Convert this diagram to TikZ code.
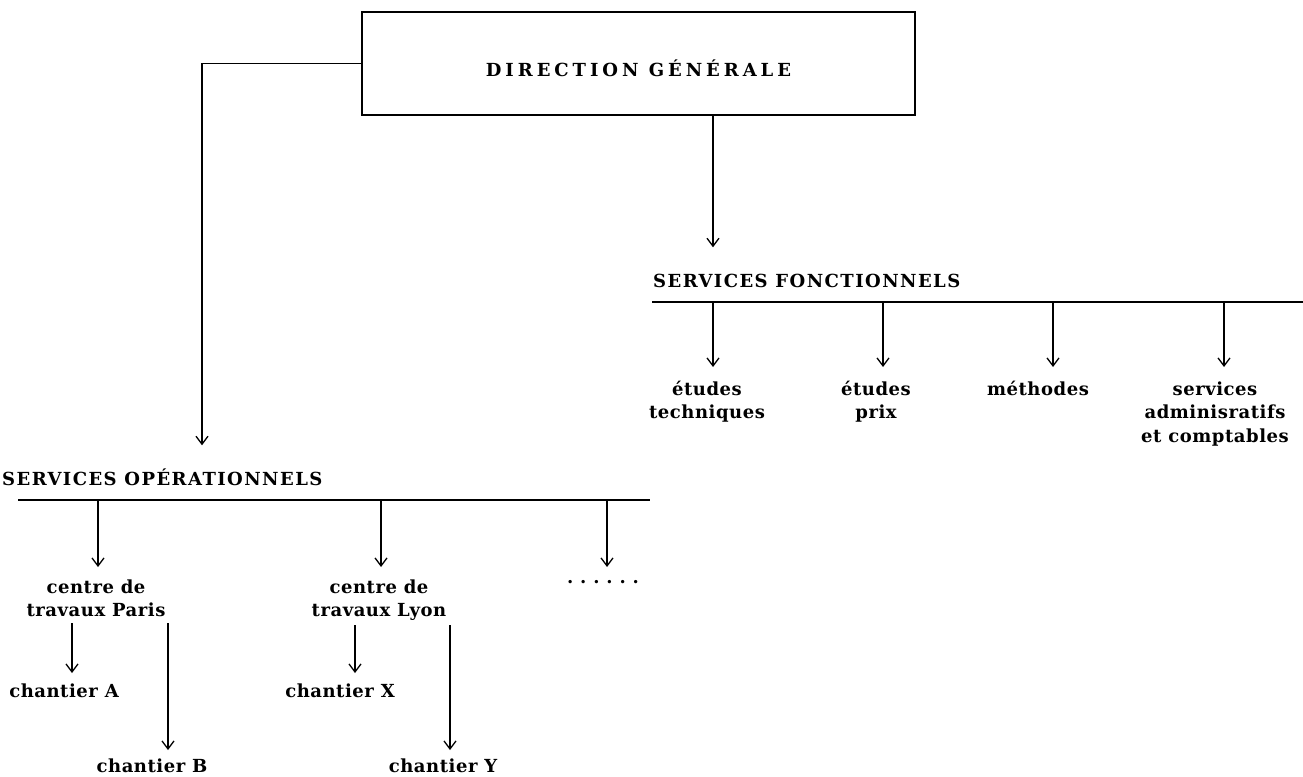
\documentclass[tikz,border=0pt]{standalone}
\usepackage{fontspec}
\setmainfont{DejaVu Serif}[LetterSpace=3]
\newfontfamily\headfont{DejaVu Serif}[LetterSpace=8]
\newfontfamily\widefont{DejaVu Serif}[LetterSpace=22]
\newfontfamily\dotfont{DejaVu Serif}[LetterSpace=38]
\usetikzlibrary{arrows.meta}
\tikzset{orgbox/.style = {draw, line width=2pt, minimum width=553pt, minimum height=103pt, text height=25pt, text depth=0pt, font=\fontsize{18}{23.5}\widefont\bfseries}}
\tikzset{head/.style = {anchor=base west, inner xsep=0pt, text height=13pt, inner ysep=26.5pt, font=\fontsize{18}{23.5}\headfont\bfseries}}
\tikzset{lbl/.style = {anchor=north, align=center, text height=13pt, inner ysep=13pt, font=\fontsize{18}{23.5}\selectfont\bfseries}}
\tikzset{two/.style = {text height=36.5pt}}
\tikzset{three/.style = {text height=60pt}}
\tikzset{bar/.style = {line width=2pt}}
\tikzset{down/.style = {line width=1.3pt, -{Straight Barb[length=8pt, width=12pt]}}}

\begin{document}
\begin{tikzpicture}[x=1pt, y=-1pt]
    \useasboundingbox (0,0) rectangle (1303,776);

    \node[orgbox] (dg) at (638.5, 63.5) {DIRECTION GÉNÉRALE};

    % services fonctionnels
    \node[head] (sf) at (653, 287) {SERVICES FONCTIONNELS};
    \coordinate (fbar1) at (652, 302);
    \coordinate (fbar2) at (1303, 302);
    \draw[bar] (fbar1) -- (fbar2);
    \draw[down] (713,0 |- dg.south) -- (713,0 |- sf.north);

    \node[lbl, two, inner ysep=15pt] (tec) at (707, 367) {études\\techniques};
    \node[lbl, two, inner ysep=15pt] (prx) at (876, 367) {études\\prix};
    \node[lbl, inner ysep=15pt] (met) at (1038, 367) {méthodes};
    \node[lbl, three, inner ysep=15pt] (adm) at (1215, 367) {services\\adminisratifs\\et comptables};
    \foreach \x/\n in {713/tec, 883/prx, 1053/met, 1224/adm}
        \draw[down] (fbar1 -| \x,0) -- (\x,0 |- \n.north);

    % services operationnels
    \node[head] (so) at (2, 485) {SERVICES OPÉRATIONNELS};
    \coordinate (obar1) at (18, 500);
    \coordinate (obar2) at (650, 500);
    \draw[bar] (obar1) -- (obar2);
    \draw[down] (dg.west) -| (202,0 |- so.north);

    \node[lbl, two] (pa) at (96, 567) {centre de\\travaux Paris};
    \node[lbl, two] (ly) at (379, 567) {centre de\\travaux Lyon};
    \node[lbl, inner ysep=3pt, font=\fontsize{18}{23.5}\dotfont\bfseries] (etc) at (603, 567) {......};
    \foreach \x/\n in {98/pa, 381/ly, 607/etc}
        \draw[down] (obar1 -| \x,0) -- (\x,0 |- \n.north);

    % chantiers
    \coordinate (pa1) at (72, 623);
    \coordinate (pa2) at (168, 623);
    \coordinate (ly1) at (355, 625);
    \coordinate (ly2) at (450, 625);
    \node[lbl, inner ysep=11pt] (chA) at (64, 673) {chantier A};
    \node[lbl, inner ysep=9pt] (chB) at (152, 750) {chantier B};
    \node[lbl, inner ysep=11pt] (chX) at (340, 673) {chantier X};
    \node[lbl, inner ysep=9pt] (chY) at (443, 750) {chantier Y};
    \draw[down] (pa1) -- (pa1 |- chA.north);
    \draw[down] (pa2) -- (pa2 |- chB.north);
    \draw[down] (ly1) -- (ly1 |- chX.north);
    \draw[down] (ly2) -- (ly2 |- chY.north);
\end{tikzpicture}
\end{document}
